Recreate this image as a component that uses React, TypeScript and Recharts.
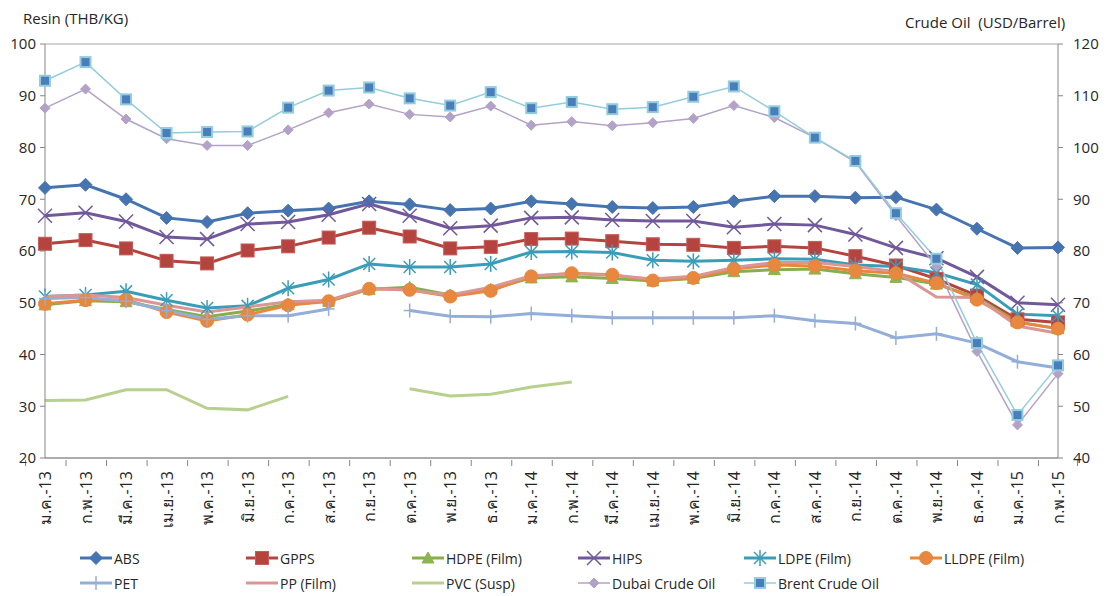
import React from "react";
import {
    LineChart,
    Line,
    XAxis,
    YAxis,
    CartesianGrid,
    Legend,
} from "recharts";

const months = [
    "ม.ค.-13", "ก.พ.-13", "มี.ค.-13", "เม.ย.-13", "พ.ค.-13", "มิ.ย.-13", "ก.ค.-13", "ส.ค.-13", "ก.ย.-13",
    "ต.ค.-13", "พ.ย.-13", "ธ.ค.-13", "ม.ค.-14", "ก.พ.-14", "มี.ค.-14", "เม.ย.-14", "พ.ค.-14", "มิ.ย.-14",
    "ก.ค.-14", "ส.ค.-14", "ก.ย.-14", "ต.ค.-14", "พ.ย.-14", "ธ.ค.-14", "ม.ค.-15", "ก.พ.-15",
];

const abs = [72.2, 72.8, 70.0, 66.4, 65.6, 67.3, 67.8, 68.2, 69.6, 69.0, 67.9, 68.2, 69.6, 69.1, 68.5, 68.3, 68.5, 69.6, 70.6, 70.6, 70.3, 70.4, 68.0, 64.3, 60.6, 60.7];
const gpps = [61.4, 62.1, 60.5, 58.1, 57.6, 60.1, 60.9, 62.6, 64.5, 62.8, 60.5, 60.8, 62.3, 62.4, 61.9, 61.3, 61.2, 60.6, 60.9, 60.6, 59.0, 57.2, 54.6, 51.4, 46.8, 46.2];
const hdpe = [49.6, 50.4, 50.2, 48.7, 47.3, 48.4, 49.7, 50.3, 52.6, 53.0, 51.5, 52.6, 54.8, 55.0, 54.7, 54.2, 54.7, 56.0, 56.4, 56.5, 55.6, 54.9, 53.6, 51.0, 46.3, 45.0];
const hips = [66.8, 67.4, 65.7, 62.7, 62.3, 65.2, 65.6, 67.0, 69.1, 66.8, 64.4, 64.9, 66.4, 66.5, 66.0, 65.8, 65.8, 64.6, 65.2, 65.0, 63.2, 60.6, 58.6, 55.0, 50.0, 49.6];
const ldpe = [51.2, 51.5, 52.2, 50.5, 49.0, 49.4, 52.8, 54.5, 57.5, 56.9, 56.9, 57.5, 59.8, 59.9, 59.7, 58.2, 58.0, 58.2, 58.5, 58.4, 57.3, 57.0, 55.8, 53.5, 47.8, 47.5];
const lldpe = [49.8, 50.5, 50.6, 48.2, 46.5, 47.7, 49.5, 50.3, 52.7, 52.5, 51.2, 52.3, 55.1, 55.7, 55.4, 54.3, 54.8, 56.5, 57.3, 57.1, 56.2, 55.7, 53.8, 50.6, 46.2, 45.0];
const pet = [50.8, 51.0, 50.3, 48.5, 46.8, 47.5, 47.5, 48.8, null, 48.5, 47.4, 47.3, 47.9, 47.5, 47.1, 47.1, 47.1, 47.1, 47.5, 46.5, 46.0, 43.2, 44.0, 42.2, 38.6, 37.4];
const pp = [51.2, 51.5, 51.0, 49.5, 48.2, 49.2, 50.2, 50.5, 52.8, 52.4, 51.5, 53.0, 55.2, 55.6, 55.3, 54.6, 55.1, 56.8, 57.8, 57.8, 57.0, 56.0, 51.1, 51.0, 45.5, 44.1];
const pvc = [31.1, 31.2, 33.2, 33.2, 29.6, 29.3, 31.9, null, null, 33.4, 32.0, 32.3, 33.7, 34.7, null, null, null, null, null, null, null, null, null, null, null, null];
const dubai = [107.6, 111.3, 105.5, 101.7, 100.4, 100.4, 103.4, 106.7, 108.4, 106.4, 105.9, 108.0, 104.3, 105.0, 104.2, 104.8, 105.6, 108.1, 105.8, 101.9, 97.2, 86.8, 77.0, 60.6, 46.4, 56.3];
const brent = [112.9, 116.5, 109.3, 102.8, 103.0, 103.1, 107.7, 111.0, 111.6, 109.5, 108.1, 110.7, 107.6, 108.8, 107.4, 107.8, 109.8, 111.8, 107.0, 101.9, 97.4, 87.3, 78.5, 62.2, 48.3, 57.9];

const resinTicks = [20, 30, 40, 50, 60, 70, 80, 90, 100];
const crudeTicks = [40, 50, 60, 70, 80, 90, 100, 110, 120];

const data = months.map((m, i) => ({
    month: m,
    abs: abs[i],
    gpps: gpps[i],
    hdpe: hdpe[i],
    hips: hips[i],
    ldpe: ldpe[i],
    lldpe: lldpe[i],
    pet: pet[i],
    pp: pp[i],
    pvc: pvc[i],
    dubai: dubai[i],
    brent: brent[i],
}));

const FONT = "'Open Sans', 'Noto Sans', 'DejaVu Sans', sans-serif";
const TEXT = "#262626";
const AXIS = "#868686";

type Shape = "diamond" | "square" | "triangle" | "x" | "star" | "circle" | "plus" | "smalldiamond" | "bluesquare" | "none";

const series: { key: string; name: string; color: string; width: number; shape: Shape; axis: string }[] = [
    { key: "abs", name: "ABS", color: "#4674B0", width: 3, shape: "diamond", axis: "left" },
    { key: "gpps", name: "GPPS", color: "#B5443F", width: 3, shape: "square", axis: "left" },
    { key: "hdpe", name: "HDPE (Film)", color: "#86AE4B", width: 3, shape: "triangle", axis: "left" },
    { key: "hips", name: "HIPS", color: "#71589A", width: 3, shape: "x", axis: "left" },
    { key: "ldpe", name: "LDPE (Film)", color: "#3A9DB8", width: 3, shape: "star", axis: "left" },
    { key: "lldpe", name: "LLDPE (Film)", color: "#E8873E", width: 3, shape: "circle", axis: "left" },
    { key: "pet", name: "PET", color: "#93AED8", width: 3, shape: "plus", axis: "left" },
    { key: "pp", name: "PP (Film)", color: "#D99694", width: 3, shape: "none", axis: "left" },
    { key: "pvc", name: "PVC (Susp)", color: "#B8D08E", width: 3, shape: "none", axis: "left" },
    { key: "dubai", name: "Dubai Crude Oil", color: "#B3A2C7", width: 1.5, shape: "smalldiamond", axis: "right" },
    { key: "brent", name: "Brent Crude Oil", color: "#93CDDD", width: 1.5, shape: "bluesquare", axis: "right" },
];

function marker(shape: Shape, color: string, cx: number, cy: number, key?: string) {
    switch (shape) {
        case "diamond":
            return <polygon key={key} points={`${cx},${cy - 6.5} ${cx + 6.5},${cy} ${cx},${cy + 6.5} ${cx - 6.5},${cy}`} fill={color} stroke={color} />;
        case "square":
            return <rect key={key} x={cx - 6.5} y={cy - 6.5} width={13} height={13} fill={color} stroke="#C45C58" strokeWidth={1} />;
        case "triangle":
            return <polygon key={key} points={`${cx},${cy - 6} ${cx + 6},${cy + 5} ${cx - 6},${cy + 5}`} fill="#8DB451" stroke="#8DB451" />;
        case "x":
            return (
                <g key={key} stroke={color} strokeWidth={1.5}>
                    <line x1={cx - 7} y1={cy - 7} x2={cx + 7} y2={cy + 7} />
                    <line x1={cx - 7} y1={cy + 7} x2={cx + 7} y2={cy - 7} />
                </g>
            );
        case "star":
            return (
                <g key={key} stroke={color} strokeWidth={1.5}>
                    <line x1={cx - 6} y1={cy - 6} x2={cx + 6} y2={cy + 6} />
                    <line x1={cx - 6} y1={cy + 6} x2={cx + 6} y2={cy - 6} />
                    <line x1={cx} y1={cy - 8} x2={cx} y2={cy + 8} />
                </g>
            );
        case "circle":
            return <circle key={key} cx={cx} cy={cy} r={6.5} fill={color} stroke={color} />;
        case "plus":
            return (
                <g key={key} stroke={color} strokeWidth={1.5}>
                    <line x1={cx - 6} y1={cy} x2={cx + 6} y2={cy} />
                    <line x1={cx} y1={cy - 7} x2={cx} y2={cy + 7} />
                </g>
            );
        case "smalldiamond":
            return <polygon key={key} points={`${cx},${cy - 5} ${cx + 5},${cy} ${cx},${cy + 5} ${cx - 5},${cy}`} fill={color} stroke={color} />;
        case "bluesquare":
            return <rect key={key} x={cx - 5} y={cy - 5} width={10} height={10} fill="#4A7EBB" stroke={color} strokeWidth={2} />;
        default:
            return <g key={key} />;
    }
}

function dotFor(shape: Shape, color: string, name: string) {
    return (props: any) => {
        const { cx, cy, index, value } = props;
        const k = `${name}-${index}`;
        if (cx == null || cy == null || value == null || Number.isNaN(cy)) return <g key={k} />;
        return marker(shape, color, cx, cy, k);
    };
}

const BAND = (1058 - 45) / months.length;

function MonthTick(props: any) {
    const { x, y, payload, index } = props;
    return (
        <g>
            <line x1={x - BAND / 2} x2={x - BAND / 2} y1={y} y2={y + 6} stroke={AXIS} />
            {index === months.length - 1 && (
                <line x1={x + BAND / 2} x2={x + BAND / 2} y1={y} y2={y + 6} stroke={AXIS} />
            )}
            <text
                x={x + 6}
                y={y + 11}
                transform={`rotate(-90, ${x + 6}, ${y + 11})`}
                textAnchor="end"
                fontSize={16}
                fontFamily={FONT}
                fill={TEXT}
            >
                {payload.value}
            </text>
        </g>
    );
}

function LegendBox() {
    return (
        <div style={{ position: "relative", width: 1109, height: 48, fontFamily: FONT, fontSize: 14, color: TEXT }}>
            {series.map((s, i) => {
                const col = i < 6 ? i : i - 6;
                const row = i < 6 ? 0 : 1;
                return (
                    <div
                        key={s.key}
                        style={{ position: "absolute", left: 79 + col * 166, top: row * 25, height: 20, display: "flex", alignItems: "center", whiteSpace: "nowrap" }}
                    >
                        <svg width={34} height={20} style={{ marginRight: 1 }}>
                            <line x1={1} x2={33} y1={10} y2={10} stroke={s.color} strokeWidth={s.width} />
                            {marker(s.shape, s.color, 17, 10)}
                        </svg>
                        <span>{s.name}</span>
                    </div>
                );
            })}
        </div>
    );
}

export default function App() {
    return (
        <div style={{ position: "absolute", left: 0, top: 0, width: 1109, height: 596, background: "#fff" }}>
            <div style={{ position: "absolute", left: 23, top: 8, fontFamily: FONT, fontSize: 15, color: TEXT }}>
                Resin (THB/KG)
            </div>
            <div style={{ position: "absolute", left: 905, top: 12, fontFamily: FONT, fontSize: 15, color: TEXT, whiteSpace: "pre" }}>
                Crude Oil  (USD/Barrel)
            </div>
            <LineChart width={1109} height={596} data={data} margin={{ top: 44, right: 0, bottom: 0, left: 0 }}>
                <CartesianGrid vertical={false} stroke="#A6A6A6" />
                <XAxis
                    dataKey="month"
                    interval={0}
                    height={80}
                    tickSize={0}
                    tickLine={false}
                    tick={<MonthTick />}
                    stroke={AXIS}
                />
                <YAxis
                    yAxisId="left"
                    domain={[20, 100]}
                    ticks={resinTicks}
                    width={45}
                    stroke={AXIS}
                    tick={{ fontSize: 15, fontFamily: FONT, fill: TEXT }}
                    tickSize={5}
                    tickMargin={4}
                />
                <YAxis
                    yAxisId="right"
                    orientation="right"
                    domain={[40, 120]}
                    ticks={crudeTicks}
                    width={51}
                    stroke={AXIS}
                    tick={{ fontSize: 15, fontFamily: FONT, fill: TEXT }}
                    tickSize={5}
                    tickMargin={10}
                />
                <Legend verticalAlign="bottom" height={58} content={<LegendBox />} wrapperStyle={{ left: 0, top: 548, bottom: "auto", width: 1109 }} />
                {series.map((s) => (
                    <Line
                        key={s.key}
                        yAxisId={s.axis}
                        dataKey={s.key}
                        name={s.name}
                        type="linear"
                        stroke={s.color}
                        strokeWidth={s.width}
                        dot={s.shape === "none" ? false : dotFor(s.shape, s.color, s.key)}
                        activeDot={false}
                        isAnimationActive={false}
                    />
                ))}
            </LineChart>
        </div>
    );
}
